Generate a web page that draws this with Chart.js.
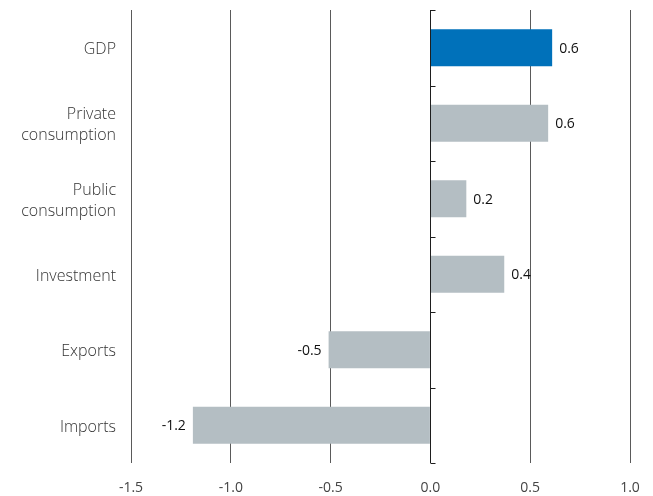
<!DOCTYPE html>
<html>
<head>
<meta charset="utf-8">
<script src="https://cdn.jsdelivr.net/npm/chart.js@4/dist/chart.umd.min.js"></script>
<style>
  html, body { margin: 0; padding: 0; background: #fff; }
  #wrap { width: 653px; height: 496px; }
</style>
</head>
<body>
<div id="wrap"><canvas id="c" width="653" height="496"></canvas></div>
<script>
// Contributions by demand component
const categories = [
  ['GDP'],
  ['Private', 'consumption'],
  ['Public', 'consumption'],
  ['Investment'],
  ['Exports'],
  ['Imports']
];
const values = [0.61, 0.59, 0.18, 0.37, -0.51, -1.19];
const barColors = ['#0071ba', '#b4bec3', '#b4bec3', '#b4bec3', '#b4bec3', '#b4bec3'];
const xTicks = [-1.5, -1.0, -0.5, 0.0, 0.5, 1.0];

const FONT = '"Open Sans", "DejaVu Sans", sans-serif';

// Zero line with small ticks at the category boundaries
const zeroAxis = {
  id: 'zeroAxis',
  afterDatasetsDraw(chart) {
    const { ctx, chartArea, scales } = chart;
    const x0 = Math.round(scales.x.getPixelForValue(0)) + 0.5;
    const ys = scales.y;
    const n = ys.ticks.length;
    const step = (ys.getPixelForValue(1) - ys.getPixelForValue(0));
    ctx.save();
    ctx.strokeStyle = '#1e1e1e';
    ctx.lineWidth = 1;
    ctx.beginPath();
    ctx.moveTo(x0, chartArea.top);
    ctx.lineTo(x0, chartArea.bottom);
    for (let i = 0; i <= n; i++) {
      const y = Math.round(ys.getPixelForValue(i) - step / 2) + 0.5;
      ctx.moveTo(x0, y);
      ctx.lineTo(x0 + 5, y);
    }
    ctx.stroke();
    ctx.restore();
  }
};

// Value labels beside each bar
const valueLabels = {
  id: 'valueLabels',
  afterDatasetsDraw(chart) {
    const { ctx } = chart;
    const meta = chart.getDatasetMeta(0);
    ctx.save();
    ctx.font = '14px ' + FONT;
    ctx.fillStyle = '#111';
    ctx.textBaseline = 'middle';
    meta.data.forEach((bar, i) => {
      const v = values[i];
      const txt = v.toFixed(1);
      if (v >= 0) {
        ctx.textAlign = 'left';
        ctx.fillText(txt, bar.x + 7, bar.y + 1);
      } else {
        ctx.textAlign = 'right';
        ctx.fillText(txt, bar.x - 7, bar.y + 1);
      }
    });
    ctx.restore();
  }
};

new Chart(document.getElementById('c'), {
  type: 'bar',
  data: {
    labels: categories,
    datasets: [{
      data: values,
      backgroundColor: barColors,
      borderWidth: 0,
      barPercentage: 0.49,
      categoryPercentage: 1.0
    }]
  },
  options: {
    indexAxis: 'y',
    responsive: false,
    animation: false,
    devicePixelRatio: 1,
    layout: { padding: { top: 10, right: 23, bottom: 0, left: 0 } },
    plugins: { legend: { display: false }, tooltip: { enabled: false } },
    scales: {
      x: {
        type: 'linear',
        min: -1.5,
        max: 1.0,
        afterBuildTicks(scale) { scale.ticks = xTicks.map(v => ({ value: v })); },
        afterFit(scale) {
          scale.height = 33;
          scale.paddingLeft = 0;
          scale.paddingRight = 0;
        },
        border: { display: false },
        grid: {
          drawTicks: false,
          lineWidth: 1,
          color: ctx => (ctx.tick && ctx.tick.value === 0) ? 'rgba(0,0,0,0)' : '#5a5a5a'
        },
        ticks: {
          padding: 17,
          maxRotation: 0,
          color: '#444',
          font: { family: FONT, size: 14 },
          callback: v => Number(v).toFixed(1)
        }
      },
      y: {
        afterFit(scale) {
          scale.width = 131;
          scale.paddingTop = 0;
          scale.paddingBottom = 0;
        },
        border: { display: false },
        grid: { display: false, drawTicks: false },
        ticks: {
          padding: 15,
          labelOffset: 2,
          color: '#333',
          font: { family: FONT, size: 16, weight: 300, lineHeight: 1.3 }
        }
      }
    }
  },
  plugins: [zeroAxis, valueLabels]
});
</script>
</body>
</html>
